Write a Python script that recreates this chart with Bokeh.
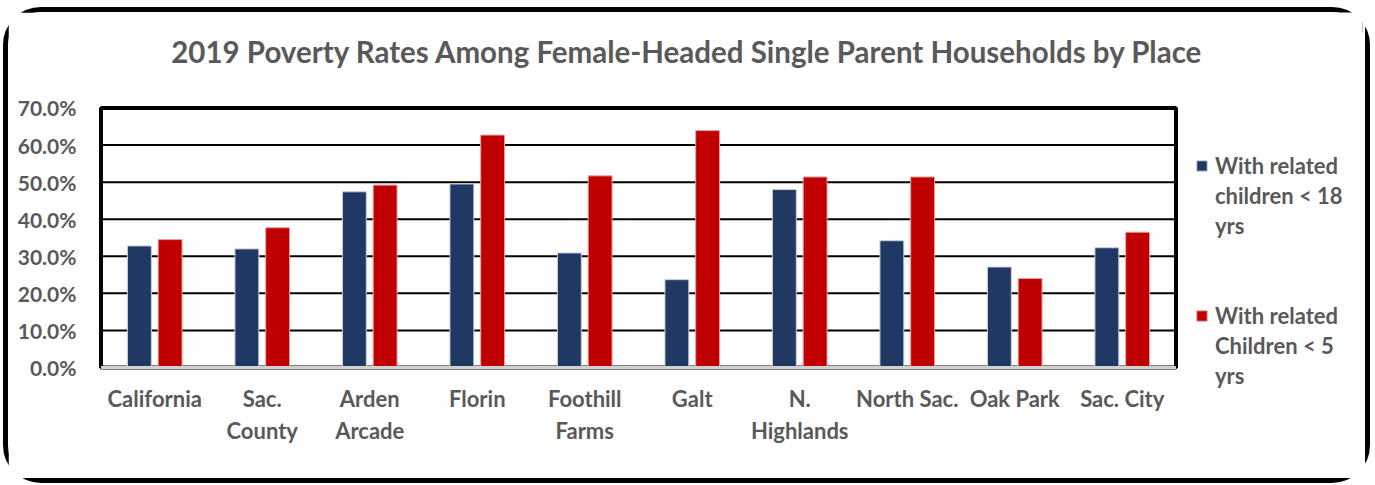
from bokeh.plotting import figure
from bokeh.models import (ColumnDataSource, Range1d, NumeralTickFormatter,
                          Legend, LegendItem, FixedTicker, Label)
from bokeh.embed import file_html
from bokeh.resources import INLINE

categories = ["California", "Sac.\nCounty", "Arden\nArcade", "Florin", "Foothill\nFarms",
              "Galt", "N.\nHighlands", "North Sac.", "Oak Park", "Sac. City"]
under18 = [0.328, 0.320, 0.474, 0.495, 0.309, 0.237, 0.480, 0.342, 0.271, 0.323]
under5 = [0.345, 0.377, 0.492, 0.627, 0.517, 0.639, 0.514, 0.514, 0.240, 0.365]
y_ticks = [0.0, 0.1, 0.2, 0.3, 0.4, 0.5, 0.6, 0.7]
legend_lines_a = ["With related", "children < 18", "yrs"]
legend_lines_b = ["With related", "Children < 5", "yrs"]
title_text = "2019 Poverty Rates Among Female-Headed Single Parent Households by Place"

FONT = "Lato"
GRAY = "#595959"
BLUE = "#203864"
RED = "#C00000"

n = len(categories)
centers = [i + 0.5 for i in range(n)]
ymax = y_ticks[-1]

src = ColumnDataSource(dict(xa=[c - 0.143 for c in centers], xb=[c + 0.143 for c in centers],
                            a=under18, b=under5))

# the frame covers the whole canvas except the y-axis labels and x-axis labels;
# the visible plot-area box is drawn from the data extents
p = figure(x_range=Range1d(-0.0326, 11.735), y_range=Range1d(-0.0782, 0.9576),
           width=1367, height=476, output_backend="svg", toolbar_location=None,
           min_border_left=89, min_border_top=0, min_border_right=13, min_border_bottom=92)
p.styles = {"border": "5px solid black", "border-radius": "38px",
            "margin": "7px 0px 0px 3px", "background": "white"}

p.quad(left=[0], right=[n], bottom=[0], top=[ymax], fill_color=None,
       line_color="black", line_width=4)
p.segment(x0=[0] * (len(y_ticks) - 2), x1=[n] * (len(y_ticks) - 2),
          y0=y_ticks[1:-1], y1=y_ticks[1:-1], line_color="black", line_width=2)

r1 = p.vbar(x="xa", top="a", width=0.222, source=src,
            fill_color=BLUE, line_color="#c8cdd8", line_width=1)
r2 = p.vbar(x="xb", top="b", width=0.222, source=src,
            fill_color=RED, line_color="#e8a0a0", line_width=1)
p.segment(x0=[0], x1=[n], y0=[0], y1=[0], line_color="#d0d0d0", line_width=3)
dummy = p.scatter(x=[], y=[], fill_alpha=0, line_alpha=0)

title = Label(x=5.456, y=0.8525, text=title_text, text_align="center", text_baseline="middle",
              text_font=FONT, text_font_size="29.5px", text_font_style="bold", text_color=GRAY)
p.add_layout(title)

p.outline_line_color = None
p.background_fill_color = "white"
p.border_fill_color = "white"
p.grid.grid_line_color = None

p.yaxis.ticker = FixedTicker(ticks=y_ticks)
p.yaxis.formatter = NumeralTickFormatter(format="0.0%")
p.xaxis.ticker = FixedTicker(ticks=centers)
p.xaxis.major_label_overrides = {c: name for c, name in zip(centers, categories)}

for ax in (p.xaxis, p.yaxis):
    ax.major_label_text_font = FONT
    ax.major_label_text_font_style = "bold"
    ax.major_label_text_color = GRAY
    ax.major_tick_line_color = None
    ax.minor_tick_line_color = None
    ax.axis_line_alpha = 0

p.yaxis.major_label_text_font_size = "21px"
p.xaxis.major_label_text_font_size = "22px"
p.yaxis.major_label_standoff = 15
p.xaxis.axis_line_width = 3
p.xaxis.major_label_standoff = -18
p.xaxis.major_label_orientation = "horizontal"

items = [LegendItem(label=legend_lines_a[0], renderers=[r1])]
items += [LegendItem(label=t, renderers=[dummy]) for t in legend_lines_a[1:]]
items += [LegendItem(label=" ", renderers=[dummy]) for _ in range(2)]
items += [LegendItem(label=legend_lines_b[0], renderers=[r2])]
items += [LegendItem(label=t, renderers=[dummy]) for t in legend_lines_b[1:]]

legend = Legend(items=items, location=(1098, 6), border_line_color=None, background_fill_alpha=0,
                label_text_font=FONT, label_text_font_size="22px", label_text_font_style="bold",
                label_text_color=GRAY, label_height=30, glyph_width=13, glyph_height=13,
                spacing=0, padding=0, margin=0, label_standoff=7)
p.add_layout(legend, "center")

open("out.html", "w").write(file_html(p, INLINE))
